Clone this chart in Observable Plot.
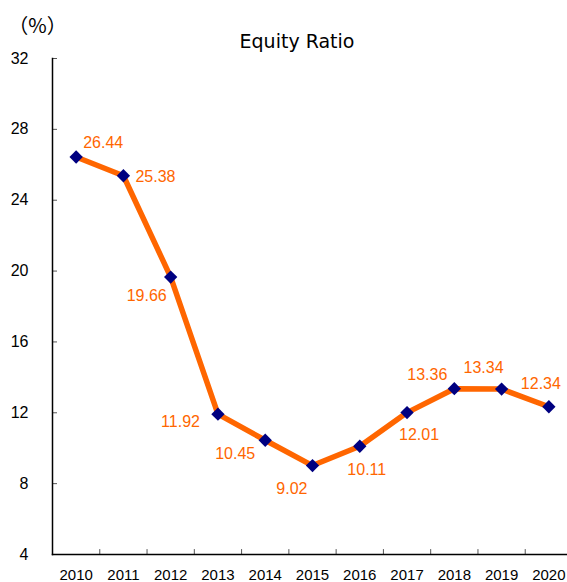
<!DOCTYPE html>
<html>
<head>
<meta charset="utf-8">
<script src="https://cdn.jsdelivr.net/npm/d3@7"></script>
<script src="https://cdn.jsdelivr.net/npm/@observablehq/plot@0.6"></script>
<style>
  html, body { margin: 0; padding: 0; background: #fff; }
  #chart svg { display: block; }
</style>
</head>
<body>
<div id="chart"></div>
<script>
const years = ["2010","2011","2012","2013","2014","2015","2016","2017","2018","2019","2020"];
const equityRatio = [26.44, 25.38, 19.66, 11.92, 10.45, 9.02, 10.11, 12.01, 13.36, 13.34, 12.34];
const yTicks = [4, 8, 12, 16, 20, 24, 28, 32];
const title = "Equity Ratio";
const unitLabel = "（%）";

const data = years.map((year, i) => ({year, value: equityRatio[i]}));

const orange = "#FF6600";
const navy = "#000080";
const font = "'Liberation Sans', Arial, sans-serif";

// label placement per year: [textAnchor, dx, dy]
const placement = {
  "2010": ["start", 7, -14],
  "2011": ["start", 12, 1],
  "2012": ["end", -4, 19],
  "2013": ["end", -18, 8],
  "2014": ["end", -10, 14],
  "2015": ["end", -5, 23],
  "2016": ["middle", 7, 24],
  "2017": ["middle", 12, 22],
  "2018": ["end", -7, -14],
  "2019": ["middle", -18, -21],
  "2020": ["middle", -8, -23]
};

const labelMarks = years.map(yr => {
  const [anchor, dx, dy] = placement[yr];
  return Plot.text(data.filter(d => d.year === yr), {
    x: "year", y: "value", text: d => d.value.toFixed(2),
    textAnchor: anchor, dx, dy, fill: orange, fontSize: 16, fontFamily: font
  });
});

const xTickShape = { draw(context, l) { context.moveTo(0, 0); context.lineTo(0, -l); } };

const chart = Plot.plot({
  width: 567,
  height: 582,
  marginLeft: 52,
  marginRight: 0,
  marginTop: 58,
  marginBottom: 28,
  style: { fontFamily: font, background: "#fff", overflow: "visible" },
  x: { type: "band", domain: years, range: [52, 572], padding: 0, round: false, label: null },
  y: { domain: [4, 32], label: null },
  marks: [
    Plot.axisY({ ticks: yTicks, tickSize: -5, tickPadding: 29, fontSize: 16, fill: "#000", stroke: "#555", fontFamily: font }),
    Plot.axisX({ tickSize: 0, tickPadding: 15, fontSize: 15, fill: "#000", fontFamily: font }),
    Plot.vector(years.slice(1), { x: d => d, frameAnchor: "bottom", rotate: 0, length: 5, anchor: "start", shape: xTickShape, stroke: "#555", strokeWidth: 1, dx: -520 / 22 }),
    Plot.frame({ anchor: "left", stroke: "#000", strokeWidth: 1.5 }),
    Plot.frame({ anchor: "bottom", stroke: "#000", strokeWidth: 1.5 }),
    Plot.line(data, { x: "year", y: "value", stroke: orange, strokeWidth: 5.5, strokeLinejoin: "round" }),
    Plot.dot(data, { x: "year", y: "value", symbol: "diamond2", r: 6, fill: navy, stroke: "none" }),
    ...labelMarks,
    Plot.text([title], { frameAnchor: "top", dx: -13, dy: -24, fontSize: 19, fontFamily: "'DejaVu Sans', sans-serif", fill: "#000" }),
    Plot.text([unitLabel], { frameAnchor: "top-left", dx: -15, dy: -40, textAnchor: "middle", fontSize: 20, fontFamily: "'Noto Sans CJK JP', sans-serif", fill: "#000" })
  ]
});

document.getElementById("chart").appendChild(chart);
</script>
</body>
</html>
